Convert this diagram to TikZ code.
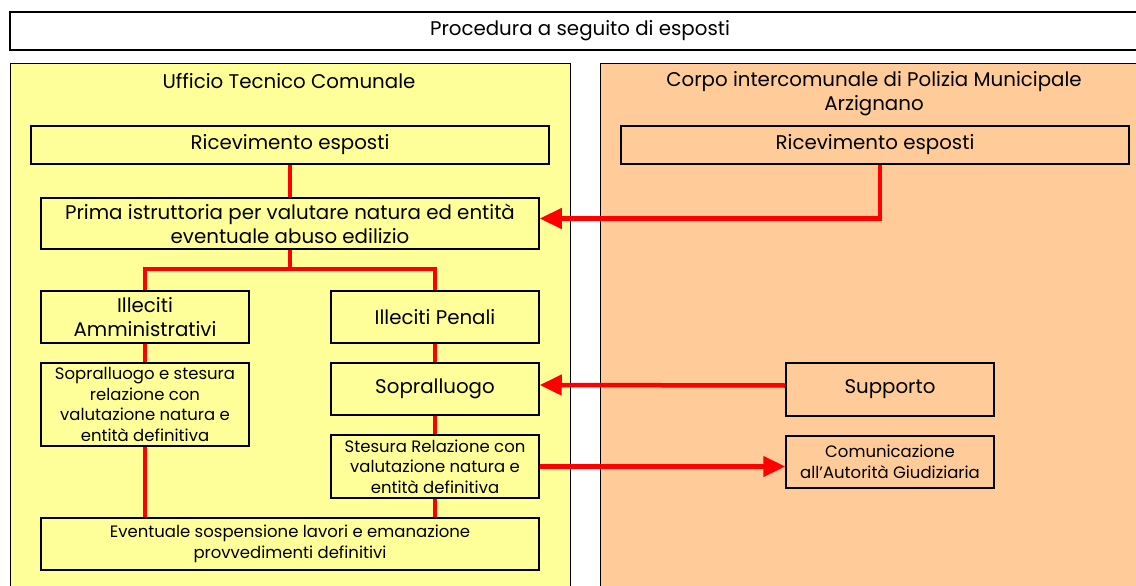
\documentclass[tikz,border=0pt]{standalone}
\usepackage{fontspec}
\setmainfont{Poppins}
\usepackage{tikz}
\usetikzlibrary{arrows.meta}

\definecolor{uffyellow}{HTML}{FFFF99}
\definecolor{polorange}{HTML}{FFCC99}

\newcommand{\bigtxt}{\fontsize{19.8}{24}\selectfont}
\newcommand{\smalltxt}{\fontsize{16.5}{20.5}\selectfont}

\begin{document}
\begin{tikzpicture}[x=1pt,y=-1pt
	,>={Triangle[length=22pt,width=20pt]}
	,semithick]
  \tikzstyle{panel}=[draw,line width=1pt,inner sep=0pt,anchor=north west]
  \tikzstyle{box}=[draw,line width=1.5pt,inner sep=0pt,align=center,
    font=\bigtxt,minimum width=208pt,minimum height=52pt]
  \tikzstyle{wbox}=[box,minimum width=498pt]
  \tikzstyle{link}=[red,line width=4.5pt]

  \useasboundingbox (0,0) rectangle (1136,586);

  % title and panels
  \node[box,fill=white,minimum width=1140pt,minimum height=38pt]
    (ttl) at (580,31) {Procedura a seguito di esposti};
  \node[panel,fill=uffyellow,minimum width=560pt,minimum height=540pt]
    (uff) at (10,63) {};
  \node[panel,fill=polorange,minimum width=560pt,minimum height=540pt]
    (pol) at (600,63) {};
  \node[font=\bigtxt] (ufflab) at (289,81) {Ufficio Tecnico Comunale};
  \node[font=\bigtxt,align=center] (pollab) at (874,94)
    {Corpo intercomunale di Polizia Municipale\\Arzignano};

  % ufficio tecnico
  \node[wbox,minimum width=518pt,minimum height=38pt] (ric1) at (290,145)
    {Ricevimento esposti};
  \node[wbox,minimum height=51pt] (prima) at (290,223.5)
    {Prima istruttoria per valutare natura ed entità\\eventuale abuso edilizio};
  \node[box] (amm) at (145,317) {Illeciti\\Amministrativi};
  \node[box] (pen) at (435,317) {Illeciti Penali};
  \node[box,font=\smalltxt,minimum height=83pt] (sopr1) at (145,404.5)
    {Sopralluogo e stesura\\relazione con\\valutazione natura e\\entità definitiva};
  \node[box] (sopr2) at (435,389) {Sopralluogo};
  \node[box,font=\smalltxt,minimum height=63pt] (stes) at (435,466.5)
    {Stesura Relazione con\\valutazione natura e\\entità definitiva};
  \node[wbox,font=\smalltxt] (event) at (290,544)
    {Eventuale sospensione lavori e emanazione\\provvedimenti definitivi};

  % polizia municipale
  \node[wbox,minimum width=508pt,minimum height=38pt] (ric2) at (875,145)
    {Ricevimento esposti};
  \node[box,minimum height=53pt] (supp) at (890,389.5) {Supporto};
  \node[box,font=\smalltxt,minimum height=52pt] (comu) at (890,462)
    {Comunicazione\\all'Autorità Giudiziaria};

  % connectors
  \coordinate (fork) at (290,269);
  \path [link] (ric1)  edge (prima);
  \draw [link] (prima) -- (fork);
  \draw [link] (amm.north) |- (fork) -| (pen.north);
  \path [link] (amm)   edge (sopr1);
  \path [link] (pen)   edge (sopr2);
  \path [link] (sopr2) edge (stes);
  \draw [link] (sopr1.south) -- (sopr1.south |- event.north);
  \draw [link] (stes.south)  -- (stes.south |- event.north);
  \draw [link,->] ([xshift=5pt]ric2.south) |- ([yshift=5pt]prima.east);
  \draw [link,->] ([yshift=4pt]supp.west) -- ([yshift=4pt]sopr2.east);
  \draw [link,->] (stes.east) -- (stes.east -| comu.west);

\end{tikzpicture}
\end{document}
